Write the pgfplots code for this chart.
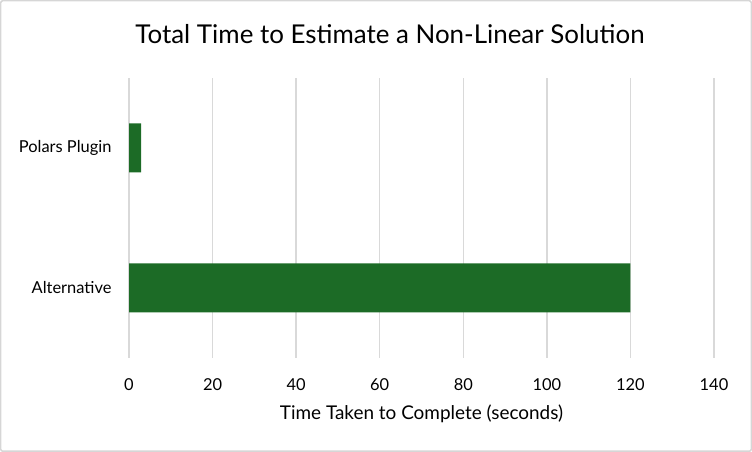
\documentclass[border=0pt]{standalone}
\usepackage{fontspec}
\setmainfont{Lato}
\usepackage{pgfplots}
\pgfplotsset{compat=1.18}
\definecolor{bargreen}{RGB}{28,107,38}
\definecolor{gridgray}{RGB}{217,217,217}
\definecolor{framegray}{RGB}{214,214,214}
\begin{document}
\begin{tikzpicture}[x=1bp,y=1bp]
\useasboundingbox (0,0) rectangle (752,452);
\draw[framegray, line width=1.5bp, rounded corners=2bp] (0.75,0.75) rectangle (751.25,451.25);
\node[font=\fontsize{26}{30}\selectfont, anchor=base] at (390,408) {Total Time to Estimate a Non-Linear Solution};
\begin{axis}[
    at={(129bp,94bp)}, anchor=south west,
    scale only axis,
    width=585bp, height=280bp,
    xbar, bar width=0.35,
    xmin=0, xmax=140,
    ymin=-0.5, ymax=1.5,
    xtick={0,20,...,140},
    ytick={0,1},
    yticklabels={Alternative,Polars Plugin},
    axis line style={draw=none},
    major tick length=0pt,
    xmajorgrids, major grid style={gridgray, line width=1.5bp},
    tick label style={font=\fontsize{16.5}{20}\selectfont, text=black},
    /pgf/number format/assume math mode=true,
    xticklabel style={yshift=-17bp},
    yticklabel style={xshift=-14bp},
    xlabel={Time Taken to Complete (seconds)},
    xlabel style={font=\fontsize{19}{22}\selectfont, at={(axis description cs:0.5,0)}, anchor=base, yshift=-62bp},
]
\addplot[fill=bargreen, draw=none] coordinates {(120,0) (2.9,1)};
\end{axis}
\end{tikzpicture}
\end{document}
